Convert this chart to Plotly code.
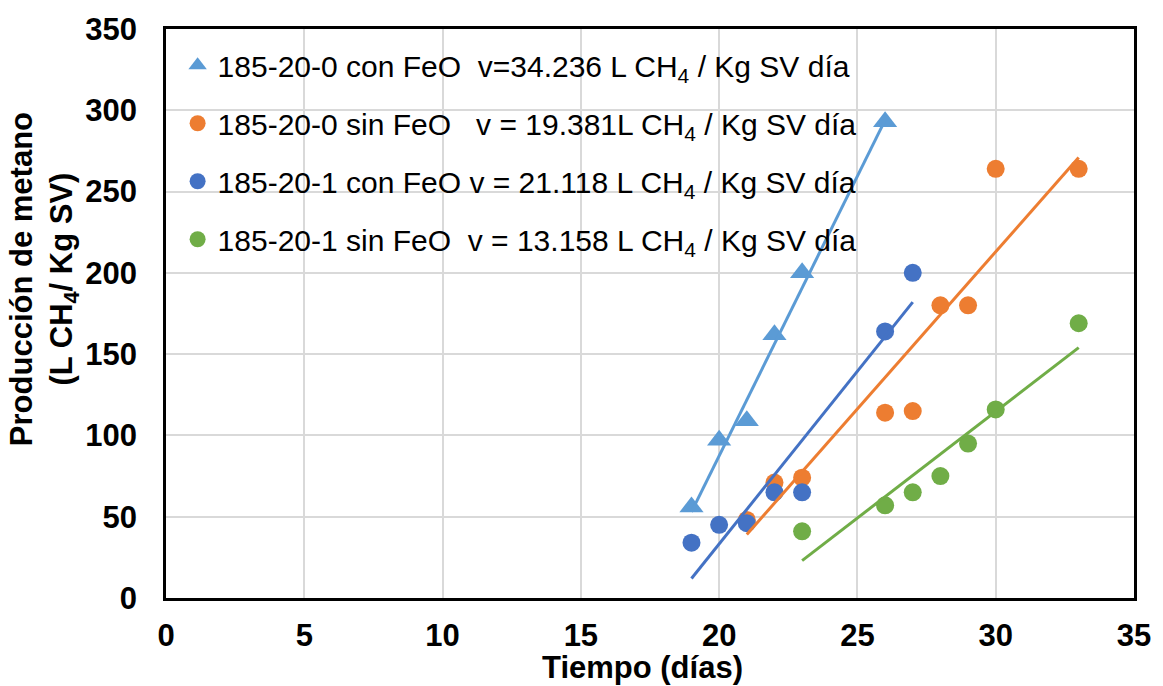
import plotly.graph_objects as go

# ---- data ----
x_a = [19, 20, 21, 22, 23, 26]
y_a = [56, 97, 109, 162, 200, 293]          # 185-20-0 con FeO (triangles)

x_b = [21, 22, 23, 26, 27, 28, 29, 30, 33]
y_b = [48, 71, 74, 114, 115, 180, 180, 264, 264]   # 185-20-0 sin FeO

x_c = [19, 20, 21, 22, 23, 26, 27]
y_c = [34, 45, 46, 65, 65, 164, 200]        # 185-20-1 con FeO

x_d = [23, 26, 27, 28, 29, 30, 33]
y_d = [41, 57, 65, 75, 95, 116, 169]        # 185-20-1 sin FeO

# trend line end points (as drawn)
tr_a_x, tr_a_y = [19, 26], [53, 294]
tr_b_x, tr_b_y = [21, 33], [39, 271]
tr_c_x, tr_c_y = [19, 27], [12, 182]
tr_d_x, tr_d_y = [23, 33], [23, 154]

names = [
    "185-20-0 con FeO  v=34.236 L CH<sub>4</sub> / Kg SV día",
    "185-20-0 sin FeO   v = 19.381L CH<sub>4</sub> / Kg SV día",
    "185-20-1 con FeO v = 21.118 L CH<sub>4</sub> / Kg SV día",
    "185-20-1 sin FeO  v = 13.158 L CH<sub>4</sub> / Kg SV día",
]
colors = ["#5B9BD5", "#ED7D31", "#4472C4", "#70AD47"]

FONT = "Arial, Liberation Sans, sans-serif"

fig = go.Figure()
series = [(x_a, y_a, "triangle-up", 21), (x_b, y_b, "circle", 18),
          (x_c, y_c, "circle", 18), (x_d, y_d, "circle", 18)]
for i, (xs, ys, sym, sz) in enumerate(series):
    fig.add_trace(go.Scatter(
        x=xs, y=ys, mode="markers", name=names[i], legendgroup=f"g{i}",
        marker=dict(symbol=sym, size=sz, color=colors[i], line=dict(width=0)),
    ))

trends = [(tr_a_x, tr_a_y), (tr_b_x, tr_b_y), (tr_c_x, tr_c_y), (tr_d_x, tr_d_y)]
for i, (tx, ty) in enumerate(trends):
    fig.add_trace(go.Scatter(
        x=tx, y=ty, mode="lines", showlegend=False, hoverinfo="skip",
        line=dict(color=colors[i], width=3),
    ))

fig.update_layout(
    width=1163, height=686,
    margin=dict(l=166, r=20, t=27, b=88),
    paper_bgcolor="white", plot_bgcolor="white",
    font=dict(family=FONT, color="black"),
    showlegend=True,
    legend=dict(
        x=0.012, y=0.982, xanchor="left", yanchor="top",
        bgcolor="rgba(0,0,0,0)", font=dict(size=30, family=FONT, color="black"),
        tracegroupgap=16, itemsizing="trace",
    ),
    xaxis=dict(
        range=[0, 35], dtick=5, tick0=0,
        showgrid=True, gridcolor="#D9D9D9", gridwidth=1.5,
        showline=True, linecolor="black", linewidth=2.5, mirror=True,
        ticks="", ticklabelstandoff=8,
        tickfont=dict(size=31, family=FONT, color="black", weight="bold"),
        zeroline=False,
    ),
    yaxis=dict(
        range=[0, 350], dtick=50, tick0=0,
        showgrid=True, gridcolor="#D9D9D9", gridwidth=1.5,
        showline=True, linecolor="black", linewidth=2.5, mirror=True,
        ticks="", ticklabelstandoff=20,
        tickfont=dict(size=31, family=FONT, color="black", weight="bold"),
        zeroline=False,
    ),
    annotations=[
        dict(text="<b>Tiempo (días)</b>", xref="paper", yref="paper",
             x=0.492, y=-0.1226, xanchor="center", yanchor="middle",
             showarrow=False, font=dict(size=31, family=FONT, color="black")),
        dict(text="<b>Producción de metano<br>(L CH<sub>4</sub>/ Kg SV)</b>",
             xref="paper", yref="paper", x=(43 - 166) / 976, y=(598 - 278) / 571,
             xanchor="center", yanchor="middle", textangle=-90,
             showarrow=False, font=dict(size=31, family=FONT, color="black")),
    ],
)

fig.write_html("out.html")
